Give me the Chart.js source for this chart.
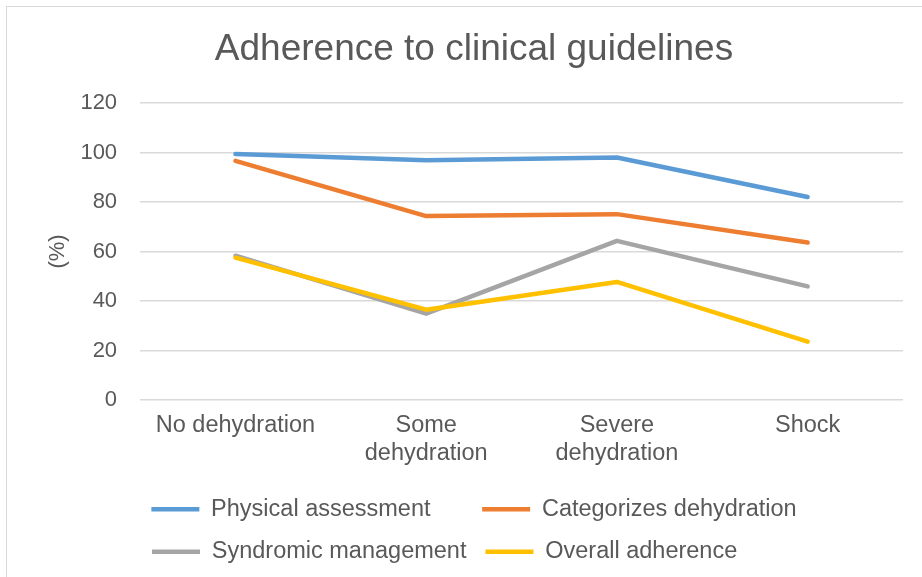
<!DOCTYPE html>
<html>
<head>
<meta charset="utf-8">
<script src="https://cdn.jsdelivr.net/npm/chart.js@4"></script>
<style>
  html, body { margin: 0; padding: 0; background: #fff; }
  #wrap { position: relative; width: 922px; height: 577px; }
  #frame { position: absolute; left: 6px; top: 6px; width: 930px; height: 590px;
           border-left: 1.5px solid #d9d9d9; border-top: 1.5px solid #d9d9d9; }
  canvas { position: absolute; left: 0; top: 0; }
</style>
</head>
<body>
<div id="wrap">
  <div id="frame"></div>
  <canvas id="adherence" width="922" height="577"></canvas>
</div>
<script>
// categories on the x axis
const stages = ["No dehydration", ["Some", "dehydration"], ["Severe", "dehydration"], "Shock"];

// series values (%)
const physicalAssessment = [99.4, 96.9, 98.0, 82.0];
const categorizesDehydration = [96.6, 74.3, 75.1, 63.6];
const syndromicManagement = [58.3, 34.9, 64.3, 45.9];
const overallAdherence = [57.5, 36.5, 47.7, 23.6];

const textColor = "#595959";
const gridColor = "#d9d9d9";

function series(label, data, color, order) {
    return {
        label: label,
        data: data,
        borderColor: color,
        backgroundColor: color,
        borderWidth: 4.5,
        borderCapStyle: "round",
        borderJoinStyle: "round",
        pointRadius: 0,
        tension: 0,
        order: order
    };
}

// trailing spaces keep the two legend columns lined up like the original
const legendPad = [5, 0, 0, 9];

Chart.defaults.font.family = "'Liberation Sans', Arial, sans-serif";
Chart.defaults.color = textColor;

new Chart("adherence", {
    type: "line",
    data: {
        labels: stages,
        datasets: [
            series("Physical assessment", physicalAssessment, "#5B9BD5", 3),
            series("Categorizes dehydration", categorizesDehydration, "#ED7D31", 2),
            series("Syndromic management", syndromicManagement, "#A5A5A5", 1),
            series("Overall adherence", overallAdherence, "#FFC000", 0)
        ]
    },
    options: {
        responsive: false,
        animation: false,
        layout: { padding: { left: 45, right: 19, top: 0, bottom: 3.6 } },
        plugins: {
            tooltip: { enabled: false },
            title: {
                display: true,
                text: "Adherence to clinical guidelines",
                color: textColor,
                font: { size: 37, weight: "normal" },
                padding: { top: 28, bottom: 30.6 }
            },
            legend: {
                position: "bottom",
                labels: {
                    usePointStyle: true,
                    pointStyle: "line",
                    pointStyleWidth: 48,
                    boxHeight: 5,
                    padding: 19,
                    color: textColor,
                    font: { size: 23.5 },
                    sort: (a, b) => a.datasetIndex - b.datasetIndex,
                    generateLabels: function (chart) {
                        const items = Chart.defaults.plugins.legend.labels.generateLabels(chart);
                        items.forEach(function (it) {
                            it.text = it.text + " ".repeat(legendPad[it.datasetIndex]);
                        });
                        return items;
                    }
                }
            }
        },
        scales: {
            x: {
                offset: true,
                grid: { display: false, drawTicks: false },
                border: { display: false },
                ticks: {
                    color: textColor,
                    font: { size: 23.5, lineHeight: 1.2 },
                    padding: 11,
                    maxRotation: 0,
                    autoSkip: false
                }
            },
            y: {
                min: 0,
                max: 120,
                grid: { color: gridColor, lineWidth: 1.5, drawTicks: true, tickLength: 21, tickColor: "rgba(0,0,0,0)" },
                border: { display: false },
                ticks: {
                    stepSize: 20,
                    color: textColor,
                    font: { size: 22 },
                    padding: 2
                },
                title: {
                    display: true,
                    text: "(%)",
                    color: textColor,
                    font: { size: 22 },
                    padding: { top: 0, bottom: 7 }
                }
            }
        }
    }
});
</script>
</body>
</html>
